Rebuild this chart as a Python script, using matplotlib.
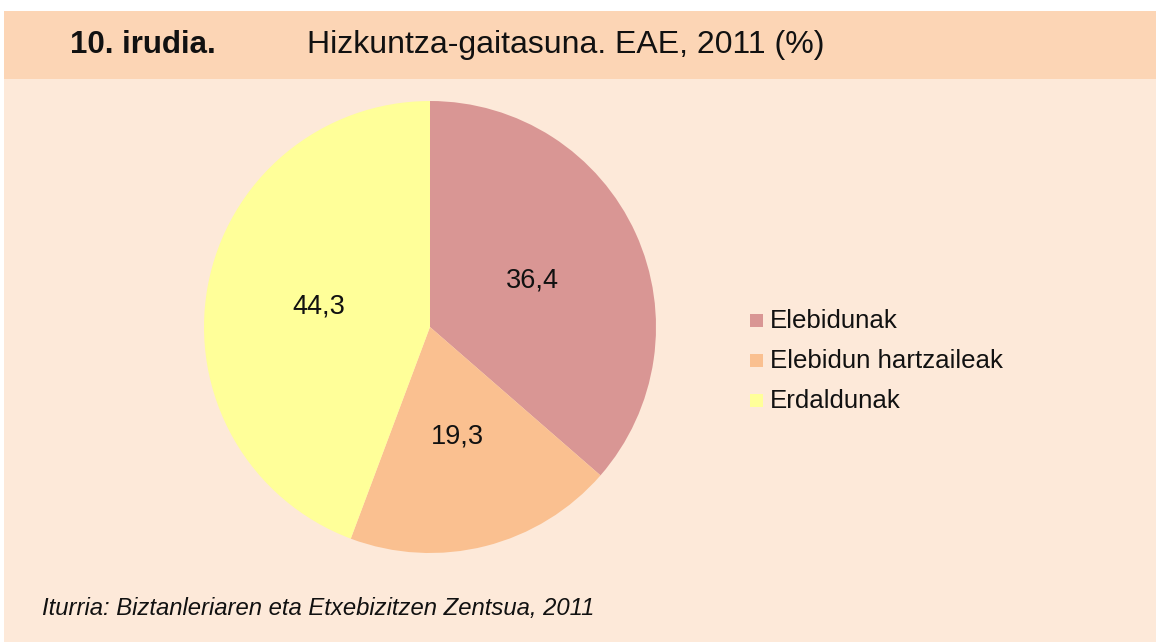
import matplotlib
matplotlib.use("Agg")
import matplotlib.pyplot as plt
import numpy as np

categories = ["Elebidunak", "Elebidun hartzaileak", "Erdaldunak"]
values = [36.4, 19.3, 44.3]
value_labels = ["36,4", "19,3", "44,3"]
title_num = "10. irudia."
title_text = "Hizkuntza-gaitasuna. EAE, 2011 (%)"
source = "Iturria: Biztanleriaren eta Etxebizitzen Zentsua, 2011"

colors = ["#D99694", "#FAC090", "#FFFF99"]

W, H = 1156, 642
fig = plt.figure(figsize=(W / 100, H / 100), dpi=100)
fig.patch.set_facecolor("white")
plt.rcParams["font.family"] = ["Liberation Sans", "DejaVu Sans"]

def fx(px):
    return px / W

def fy(py):
    return 1 - py / H

# background panels
bg = fig.add_axes([0, 0, 1, 1])
bg.set_xlim(0, W)
bg.set_ylim(H, 0)
bg.axis("off")
bg.add_patch(plt.Rectangle((4, 79), W - 4, H - 79, facecolor="#FDE9D9", edgecolor="none"))
bg.add_patch(plt.Rectangle((4, 11), W - 4, 68, facecolor="#FCD5B5", edgecolor="none"))

fig.text(fx(70), fy(45), title_num, fontsize=22.5, fontweight="bold", color="#111111",
         ha="left", va="center")
fig.text(fx(307), fy(45), title_text, fontsize=23, color="#111111", ha="left", va="center")
fig.text(fx(42), fy(608), source, fontsize=17.2, style="italic", color="#111111",
         ha="left", va="center")

# pie
cx, cy, r = 430, 327, 226
ax = fig.add_axes([fx(cx - r), fy(cy + r), 2 * r / W, 2 * r / H])
wedges, _ = ax.pie(values, colors=colors, startangle=90, counterclock=False,
                   radius=1.0, wedgeprops=dict(linewidth=0))
ax.set_xlim(-1, 1)
ax.set_ylim(-1, 1)
ax.set_aspect("auto")
ax.axis("off")

for w, lab in zip(wedges, value_labels):
    ang = np.deg2rad((w.theta1 + w.theta2) / 2)
    ax.text(0.5 * np.cos(ang), 0.5 * np.sin(ang), lab, ha="center", va="center",
            fontsize=19.5, color="#111111")

# legend
leg_y = [321, 361, 401]
for c, name, yy in zip(colors, categories, leg_y):
    bg.add_patch(plt.Rectangle((750, yy - 7), 13, 13, facecolor=c, edgecolor="none"))
    bg.text(770, yy, name, fontsize=18.6, color="#111111", ha="left", va="center")

fig.savefig("out.png", dpi=100, facecolor=fig.get_facecolor())
